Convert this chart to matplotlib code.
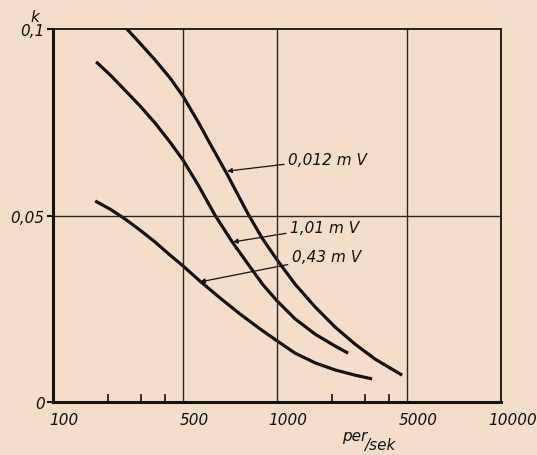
import numpy as np
import matplotlib
matplotlib.use("Agg")
import matplotlib.pyplot as plt
from matplotlib.transforms import ScaledTranslation

# hand drawn log scale: where 1,2,3,4,5,10 sit inside one decade
mult = np.log10([1, 2, 3, 4, 5, 10])
frac = [0, 0.246, 0.393, 0.498, 0.58, 1.0]

# curves (frequency per/sek, k)
f_0012 = [252, 296, 356, 427, 500, 559, 624, 692, 750, 808, 895, 1000, 1254, 1613, 2073, 2652, 3390, 4710]
k_0012 = [0.1000, 0.0962, 0.0917, 0.0869, 0.0820, 0.0751, 0.0678, 0.0611, 0.0555,
          0.0504, 0.0440, 0.0381, 0.0316, 0.0255, 0.0201, 0.0155, 0.0115, 0.0072]

f_101 = [172, 205, 246, 296, 356, 427, 500, 559, 633, 723, 820, 902, 1000, 1254, 1613, 2073, 2433]
k_101 = [0.0912, 0.0877, 0.0836, 0.0794, 0.0748, 0.0697, 0.0649, 0.0582, 0.0501,
         0.0426, 0.0362, 0.0314, 0.0271, 0.0223, 0.0182, 0.0150, 0.0131]

f_043 = [170, 205, 246, 296, 356, 427, 500, 567, 657, 761, 882, 1000, 1254, 1613, 2073, 2652, 3268]
k_043 = [0.0539, 0.0517, 0.0491, 0.0461, 0.0429, 0.0394, 0.0365, 0.0324, 0.0279,
         0.0236, 0.0196, 0.0164, 0.0131, 0.0105, 0.0086, 0.0072, 0.0062]

xticks = [100, 500, 1000, 5000, 10000]
xlabels = ["100", "500", "1000", "5000", "10000"]
xminor = [200, 300, 400, 2000, 3000, 4000]
yticks = [0, 0.05, 0.1]
ylabels = ["0", "0,05", "0,1"]

# labels: text, arrow tip (data), text start (axes fraction)
notes = [("0,012 m V", (692, 0.0619), (0.525, 0.651)),
         ("1,01 m V", (722, 0.0429), (0.529, 0.469)),
         ("0,43 m V", (567, 0.0322), (0.533, 0.389))]


def fwd(x):
    x = np.clip(np.asarray(x, dtype=float), 1e-6, None)
    u = np.log10(x)
    d = np.floor(u)
    return d + np.interp(u - d, mult, frac)


def inv(v):
    v = np.asarray(v, dtype=float)
    d = np.floor(v)
    return 10 ** (d + np.interp(v - d, frac, mult))


paper = "#f4ddc9"
ink = "#141210"

fig = plt.figure(figsize=(5.37, 4.56), dpi=100, facecolor=paper)
ax = fig.add_axes([0.0987, 0.1162, 0.8345, 0.818])
ax.set_facecolor(paper)
ax.set_xscale("function", functions=(fwd, inv))
ax.set_xlim(100, 10000)
ax.set_ylim(0, 0.1)

for f, k in [(f_0012, k_0012), (f_101, k_101), (f_043, k_043)]:
    ax.plot(f, k, color=ink, lw=2.3, solid_capstyle="butt", solid_joinstyle="round")

# grid
for x in [500, 1000, 5000]:
    ax.axvline(x, color="#2a2622", lw=1.0)
ax.axhline(0.05, color="#2a2622", lw=1.0)

for sp in ["top", "right"]:
    ax.spines[sp].set_linewidth(1.3)
for sp in ["left", "bottom"]:
    ax.spines[sp].set_linewidth(2.2)
for sp in ax.spines.values():
    sp.set_color(ink)

fnt = dict(family="DejaVu Sans", style="italic", size=11, color=ink)

ax.set_xticks(xticks)
ax.set_xticklabels(xlabels, **fnt)
ax.set_xticks(xminor, minor=True)
ax.tick_params(axis="x", which="both", direction="in", length=6, width=1.2, color=ink, pad=7)
ax.tick_params(axis="x", which="major", length=0)
for lab in ax.get_xticklabels():
    lab.set_transform(lab.get_transform() + ScaledTranslation(8 / 72, 0, fig.dpi_scale_trans))

ax.set_yticks(yticks)
ax.set_yticklabels(ylabels, **fnt)
ax.tick_params(axis="y", direction="out", length=4, width=1.5, color=ink, pad=2)

for txt, tip, pos in notes:
    ax.annotate(txt, xy=tip, xycoords="data", xytext=pos, textcoords="axes fraction",
                ha="left", va="center", fontsize=11, family="DejaVu Sans", style="italic", color=ink,
                arrowprops=dict(arrowstyle="-|>", color=ink, lw=0.9, mutation_scale=7,
                                shrinkA=1, shrinkB=0))

fig.text(35 / 537, 1 - 17 / 456, "k", ha="center", va="center", **fnt)
fig.text(355 / 537, 1 - 437 / 456, "per", ha="center", va="center", **fnt)
fig.text(380 / 537, 1 - 446 / 456, "/sek", ha="center", va="center", **fnt)

fig.savefig("out.png", dpi=100, facecolor=paper)
